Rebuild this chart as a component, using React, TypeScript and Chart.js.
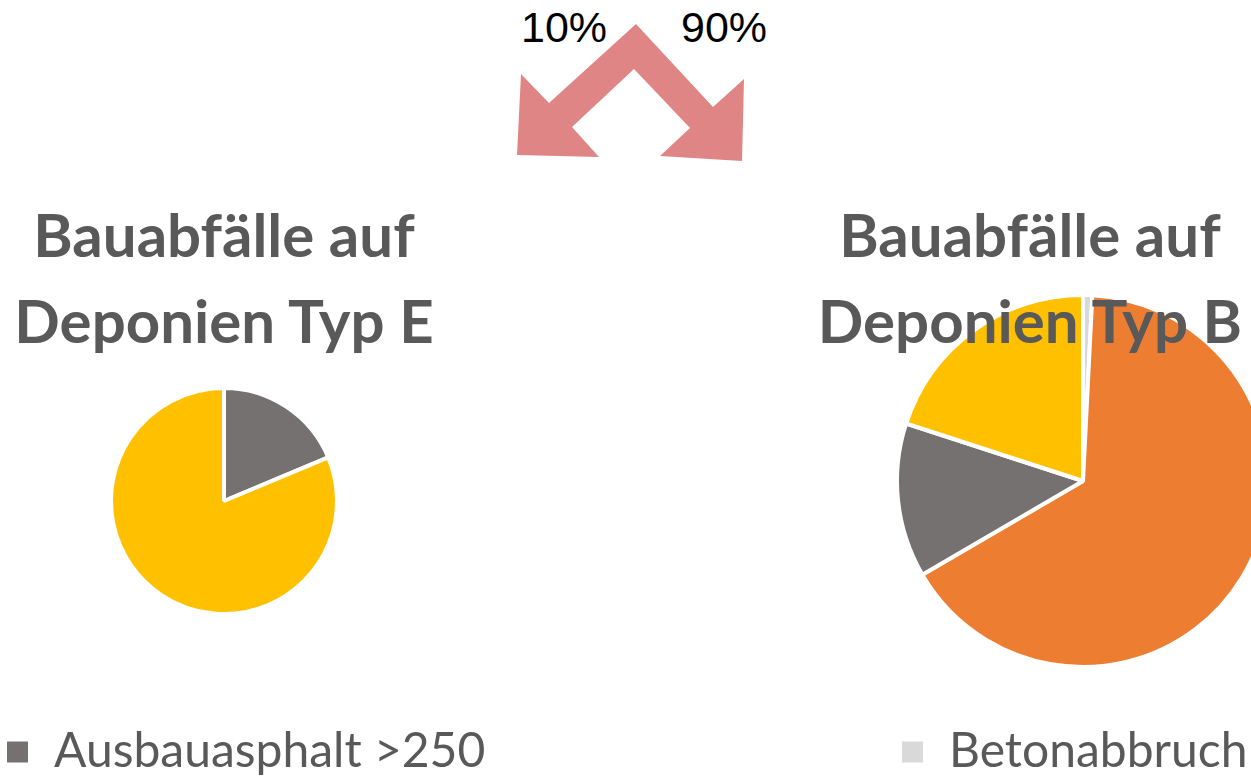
import React, { useEffect, useRef } from "react";
import { Chart, registerables } from "chart.js";

Chart.register(...registerables);

// ---- data ----
const leftTitle = ["Bauabfälle auf", "Deponien Typ E"];
const rightTitle = ["Bauabfälle auf", "Deponien Typ B"];
const splitLabels = ["10%", "90%"];

const leftLabels = ["Ausbauasphalt >250", "Bauschutt"];
const leftValues = [18.7, 81.3];
const leftColors = ["#767171", "#FFC000"];
const leftLegendShown = ["Ausbauasphalt >250"];

const rightLabels = ["Betonabbruch", "Bodenaushub", "Ausbauasphalt >250", "Bauschutt"];
const rightValues = [0.8, 65.8, 13.4, 20.0];
const rightColors = ["#D9D9D9", "#ED7D31", "#767171", "#FFC000"];
const rightLegendShown = ["Betonabbruch"];

const TEXT = "#595959";

function PieChart(props: {
  labels: string[];
  values: number[];
  colors: string[];
  legendShown: string[];
  radius: number;
  padTop: number;
  legendInset: number;
  width: number;
  height: number;
  style: React.CSSProperties;
}) {
  const ref = useRef<HTMLCanvasElement | null>(null);
  useEffect(() => {
    if (!ref.current) return;
    const chart = new Chart(ref.current, {
      type: "pie",
      data: {
        labels: props.labels,
        datasets: [
          {
            data: props.values,
            backgroundColor: props.colors,
            borderColor: "#FFFFFF",
            borderWidth: 4,
            hoverOffset: 0,
          },
        ],
      },
      options: {
        responsive: false,
        animation: false,
        radius: props.radius,
        layout: { padding: { top: props.padTop, left: 0, right: 0, bottom: 0 } },
        plugins: {
          tooltip: { enabled: false },
          title: { display: false },
          legend: {
            display: true,
            position: "bottom",
            align: "start",
            labels: {
              boxWidth: 25,
              boxHeight: 25,
              padding: props.legendInset,
              color: TEXT,
              font: { family: "Lato", size: 48, weight: "normal" },
              filter: (item: any) => props.legendShown.includes(item.text),
            },
          },
        },
      } as any,
    });
    return () => chart.destroy();
  }, []);
  return <canvas ref={ref} width={props.width} height={props.height} style={{ position: "absolute", ...props.style }} />;
}

function Title(props: { lines: string[]; cx: number }) {
  return (
    <div
      style={{
        position: "absolute",
        left: props.cx - 300,
        top: 191,
        width: 600,
        textAlign: "center",
        fontFamily: "Lato",
        fontWeight: 700,
        fontSize: 60,
        lineHeight: "86px",
        color: TEXT,
        zIndex: 2,
        whiteSpace: "nowrap",
      }}
    >
      {props.lines.map((l, i) => (
        <div key={i}>{l}</div>
      ))}
    </div>
  );
}

export default function App() {
  const pctStyle: React.CSSProperties = {
    position: "absolute",
    top: 6,
    fontFamily: "Liberation Sans, Arial, sans-serif",
    fontSize: 43,
    lineHeight: "43px",
    color: "#000000",
    zIndex: 2,
  };
  return (
    <div
      style={{
        position: "absolute",
        left: 0,
        top: 0,
        width: 1251,
        height: 776,
        overflow: "hidden",
        background: "#FFFFFF",
      }}
    >
      <svg width={1251} height={200} style={{ position: "absolute", left: 0, top: 0 }}>
        <polygon
          points="636,24 713,107 744,79 742,161 660,156 690,128 634,69 572,127 599,157 517,155 521,74 549,103"
          fill="#E08585"
        />
      </svg>
      <div style={{ ...pctStyle, left: 521 }}>{splitLabels[0]}</div>
      <div style={{ ...pctStyle, left: 681 }}>{splitLabels[1]}</div>

      <PieChart
        labels={leftLabels}
        values={leftValues}
        colors={leftColors}
        legendShown={leftLegendShown}
        radius={113}
        padTop={335}
        legendInset={61}
        width={560}
        height={786}
        style={{ left: -56, top: 0 }}
      />
      <PieChart
        labels={rightLabels}
        values={rightValues}
        colors={rightColors}
        legendShown={rightLegendShown}
        radius={186}
        padTop={244}
        legendInset={10}
        width={386}
        height={786}
        style={{ left: 890, top: 0 }}
      />
      <Title lines={leftTitle} cx={224} />
      <Title lines={rightTitle} cx={1030} />
    </div>
  );
}
